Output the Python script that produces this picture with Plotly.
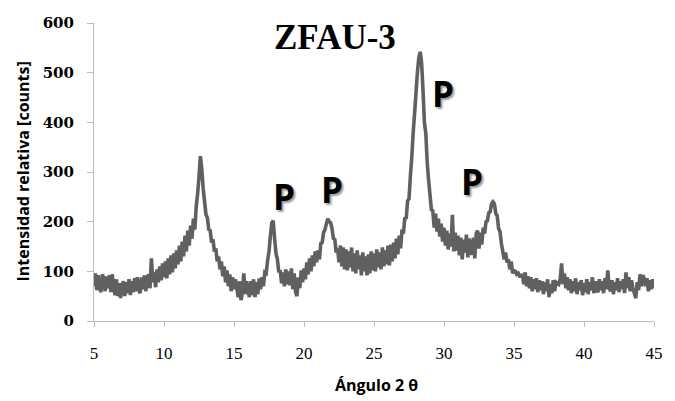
import numpy as np
import plotly.graph_objects as go

# XRD pattern of sample ZFAU-3, intensity sampled every 0.1 deg (2-theta 5..45)
intensity = [
    70, 96, 62, 92, 66, 58, 94, 84, 60, 90,          # 5
    66, 92, 58, 94, 70, 52, 84, 50, 76, 46,          # 6
    70, 80, 50, 78, 56, 84, 52, 80, 58, 86,          # 7
    60, 88, 62, 56, 88, 64, 92, 60, 86, 94,          # 8
    66, 126, 78, 98, 68, 104, 78, 110, 82, 116,      # 9
    88, 120, 86, 126, 94, 132, 98, 136, 106, 142,    # 10
    114, 152, 120, 160, 130, 172, 140, 182, 152, 192,  # 11
    166, 206, 184, 230, 256, 290, 332, 306, 266, 240,  # 12
    214, 208, 184, 182, 158, 164, 140, 146, 120, 130,  # 13
    104, 120, 90, 110, 78, 102, 70, 94, 60, 88,      # 14
    64, 84, 66, 48, 80, 42, 58, 96, 54, 80,          # 15
    62, 48, 80, 52, 84, 48, 78, 54, 86, 64,          # 16
    88, 70, 98, 96, 122, 140, 172, 198, 202, 166,    # 17
    136, 124, 98, 102, 76, 98, 70, 104, 74, 100,     # 18
    72, 106, 64, 96, 58, 50, 88, 66, 102, 78,        # 19
    106, 84, 118, 94, 126, 100, 132, 110, 140, 118,  # 20
    142, 124, 156, 158, 178, 184, 196, 206, 200, 198,  # 21
    186, 166, 164, 138, 146, 118, 152, 110, 148, 104,  # 22
    144, 102, 140, 108, 148, 100, 136, 96, 142, 104,   # 23
    132, 92, 138, 100, 130, 92, 134, 96, 140, 102,     # 24
    136, 100, 144, 108, 138, 104, 148, 110, 142, 114,  # 25
    152, 112, 154, 120, 158, 126, 166, 134, 172, 146,  # 26
    184, 176, 208, 206, 242, 246, 292, 330, 380, 418,  # 27
    460, 500, 530, 542, 520, 465, 400, 378, 320, 284,  # 28
    254, 224, 222, 188, 216, 180, 206, 170, 196, 160,  # 29
    188, 152, 182, 144, 176, 150, 214, 140, 178, 142,  # 30
    172, 132, 168, 124, 164, 138, 174, 128, 166, 138,  # 31
    134, 168, 126, 176, 182, 146, 178, 154, 188, 176,  # 32
    200, 202, 218, 220, 236, 240, 236, 216, 212, 186,  # 33
    180, 156, 140, 124, 138, 118, 124, 104, 120, 96,   # 34
    102, 100, 94, 96, 90, 90, 94, 74, 98, 70,        # 35
    90, 66, 88, 60, 84, 64, 86, 58, 82, 62,          # 36
    80, 54, 78, 60, 84, 48, 74, 56, 82, 60,          # 37
    78, 76, 74, 84, 116, 74, 96, 66, 88, 62,         # 38
    84, 56, 80, 60, 86, 54, 78, 62, 82, 52,          # 39
    76, 58, 84, 54, 78, 62, 88, 56, 80, 64,          # 40
    58, 84, 62, 80, 56, 86, 64, 102, 66, 60,         # 41
    82, 54, 78, 62, 86, 58, 80, 64, 84, 56,          # 42
    98, 66, 88, 60, 82, 64, 56, 46, 78, 62,          # 43
    94, 70, 92, 86, 70, 86, 60, 82, 64, 84,          # 44
    66,                                              # 45
]
two_theta = np.linspace(5, 45, len(intensity))

x_ticks = [5, 10, 15, 20, 25, 30, 35, 40, 45]
y_ticks = [0, 100, 200, 300, 400, 500, 600]

# phase markers: label, 2-theta, intensity position
peak_labels = ["P", "P", "P", "P"]
peak_x = [18.6, 22.0, 29.9, 32.0]
peak_y = [250, 264, 459, 280]

fig = go.Figure()
fig.add_trace(go.Scatter(
    x=two_theta, y=intensity, mode="lines",
    line=dict(color="#606060", width=3.6, simplify=False),
    hoverinfo="skip", showlegend=False,
))

for lab, px_, py_ in zip(peak_labels, peak_x, peak_y):
    fig.add_annotation(
        x=px_, y=py_, text=lab, showarrow=False,
        font=dict(family="Open Sans", size=35, color="black", weight="bold",
                  shadow="2px 2px 2px #9a9a9a"),
    )

fig.add_annotation(
    xref="paper", yref="paper", x=0.43, y=0.95, text="ZFAU-3",
    xanchor="center", yanchor="middle", showarrow=False,
    font=dict(family="Liberation Serif", size=35, color="black", weight="bold"),
)
fig.add_annotation(
    xref="paper", yref="paper", x=-0.1276, y=0.5,
    xanchor="center", yanchor="middle",
    text="Intensidad relativa [counts]", textangle=-90, showarrow=False,
    font=dict(family="Open Sans", size=16, color="black", weight="bold"),
)
fig.add_annotation(
    xref="paper", yref="paper", x=0.504, y=-0.215, text="Ángulo 2 θ",
    xanchor="center", yanchor="middle", showarrow=False,
    font=dict(family="Open Sans", size=16, color="black", weight="bold"),
)

axis_col = "#bdbdbd"
fig.update_xaxes(
    range=[5, 45], tickvals=x_ticks, ticktext=[str(v) for v in x_ticks],
    showgrid=False, zeroline=False, showline=True, linecolor=axis_col,
    linewidth=1, ticks="outside", ticklen=5, tickcolor=axis_col,
    ticklabelstandoff=12,
    tickfont=dict(family="Liberation Serif", size=17, color="black"),
)
fig.update_yaxes(
    range=[0, 600], tickvals=y_ticks, ticktext=[str(v) for v in y_ticks],
    showgrid=False, zeroline=False, showline=True, linecolor=axis_col,
    linewidth=1, ticks="outside", ticklen=6, tickcolor=axis_col,
    ticklabelstandoff=10,
    tickfont=dict(family="DejaVu Serif", size=15, color="black", weight="bold"),
)
fig.update_layout(
    width=675, height=401,
    margin=dict(l=94, r=14, t=23, b=80),
    paper_bgcolor="white", plot_bgcolor="white",
)
fig.write_html("out.html")
